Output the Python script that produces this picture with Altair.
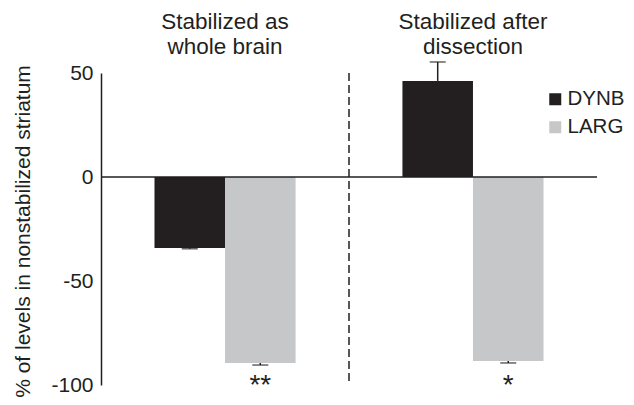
import altair as alt
import pandas as pd

# ---- data ----
groups = ["Stabilized as|whole brain", "Stabilized after|dissection"]
series = ["DYNB", "LARG"]
dynb_values = [-34.1, 46.2]
dynb_errors = [0.4, 9.1]
larg_values = [-89.4, -88.5]
larg_errors = [1.0, 0.9]
significance = ["**", "*"]
sig_level = [-100, -100]
y_ticks = [-100, -50, 0, 50]
colors = ["#231f20", "#c6c7c9"]

rows = []
for i, g in enumerate(groups):
    for s, vals, errs in (("DYNB", dynb_values, dynb_errors), ("LARG", larg_values, larg_errors)):
        v, e = vals[i], errs[i]
        end = v + e if v >= 0 else v - e
        rows.append({"group": g, "series": s, "value": v, "err_end": end})
df = pd.DataFrame(rows)
sig_df = pd.DataFrame({"group": groups, "series": ["LARG", "LARG"],
                       "label": significance, "ypos": sig_level})
zero_df = pd.DataFrame({"zero": [0]})

FONT = "Liberation Sans"
INK = "#231f20"

x_enc = alt.X("group:N", sort=groups,
              scale=alt.Scale(paddingInner=0.431, paddingOuter=0.2157),
              axis=alt.Axis(orient="top", title=None, domain=False, ticks=False,
                            labelAngle=0, labelExpr="split(datum.label, '|')",
                            labelFontSize=22.5, labelLineHeight=25, labelPadding=40,
                            labelColor=INK))
xo_enc = alt.XOffset("series:N", sort=series)
y_scale = alt.Scale(domain=[-100, 50], nice=False, zero=False)

bars = alt.Chart(df).mark_bar().encode(
    x=x_enc, xOffset=xo_enc,
    y=alt.Y("value:Q", scale=y_scale,
            axis=alt.Axis(values=y_ticks, ticks=False, tickSize=0, grid=False,
                          domainColor=INK, domainWidth=1.5,
                          labelFontSize=21, labelPadding=8, labelColor=INK,
                          labelExpr="datum.value",
                          title="% of levels in nonstabilized striatum",
                          titleFontSize=21, titleFontWeight="normal", titleColor=INK,
                          titleX=-68, titleY=158, titleAlign="center")),
    color=alt.Color("series:N", sort=series,
                    scale=alt.Scale(domain=series, range=colors),
                    legend=alt.Legend(title=None, orient="none", legendX=444, legendY=16,
                                      symbolType="square", symbolSize=144,
                                      symbolStrokeWidth=0, labelFontSize=20.5,
                                      labelColor=INK, rowPadding=7, padding=0,
                                      labelOffset=2)),
)

err_rules = alt.Chart(df).mark_rule(color=INK, strokeWidth=1.5).encode(
    x=x_enc, xOffset=xo_enc,
    y=alt.Y("value:Q", scale=y_scale), y2="err_end:Q")

err_caps = alt.Chart(df).mark_tick(color=INK, thickness=1.5, size=16).encode(
    x=x_enc, xOffset=xo_enc,
    y=alt.Y("err_end:Q", scale=y_scale))

zero_line = alt.Chart(zero_df).mark_rule(color=INK, strokeWidth=1.5).encode(
    y=alt.Y("zero:Q", scale=y_scale))

divider = alt.Chart(zero_df).mark_rule(color=INK, strokeWidth=1.5, strokeDash=[8, 4]).encode(
    x=alt.value(248), y=alt.value(0), y2=alt.value(311))

stars = alt.Chart(sig_df).mark_text(fontSize=28, color=INK, baseline="middle", dy=1).encode(
    x=x_enc, xOffset=xo_enc,
    y=alt.Y("ypos:Q", scale=y_scale),
    text="label:N")

chart = alt.layer(bars, err_rules, err_caps, zero_line, divider, stars).properties(
    width=496, height=312,
    autosize=alt.AutoSizeParams(type="none"),
    padding={"left": 93, "top": 65, "right": 29, "bottom": 12},
).configure(font=FONT).configure_view(stroke=None)

chart.save("out.html", embed_options={"renderer": "svg", "actions": False})
